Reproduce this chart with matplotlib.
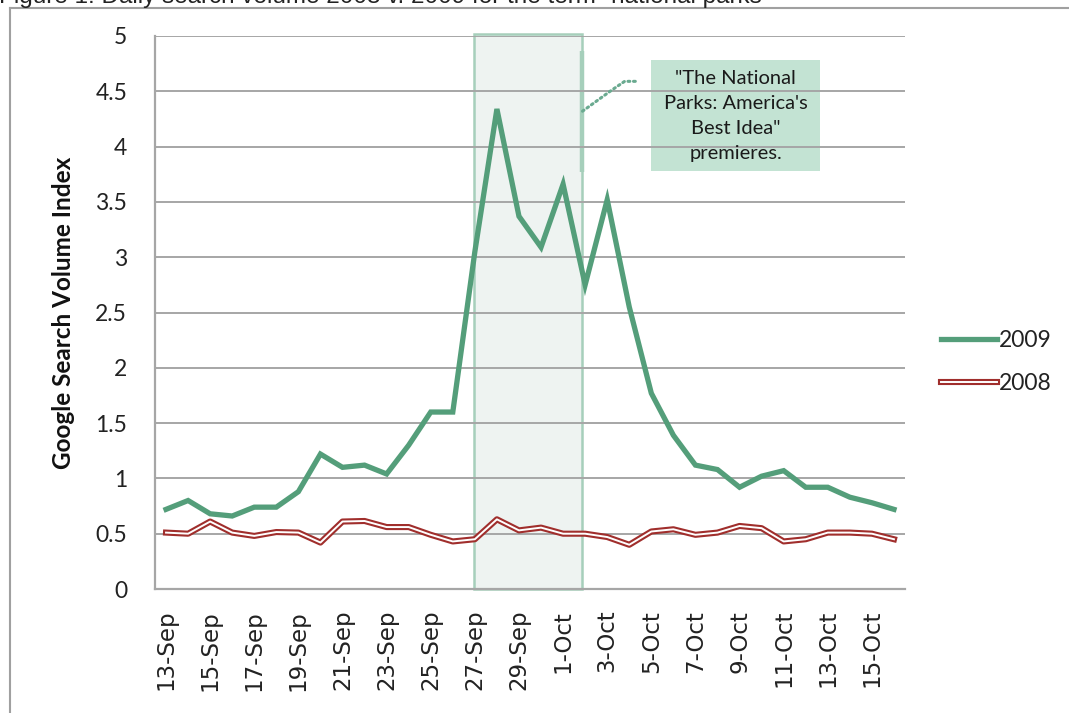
import numpy as np
import matplotlib
matplotlib.use("Agg")
import matplotlib.pyplot as plt
from matplotlib.lines import Line2D
from matplotlib.patches import Rectangle
import matplotlib.patheffects as pe

# ---------------- data ----------------
dates = [f"{d}-Sep" for d in range(13, 31)] + [f"{d}-Oct" for d in range(1, 17)]
vol_2009 = [0.72, 0.80, 0.68, 0.66, 0.74, 0.74, 0.88, 1.22, 1.10, 1.12, 1.04, 1.30,
            1.60, 1.60, 3.05, 4.34, 3.37, 3.09,
            3.66, 2.75, 3.52, 2.55, 1.77, 1.39, 1.12, 1.08, 0.92, 1.02, 1.07, 0.92,
            0.92, 0.83, 0.78, 0.72]
vol_2008 = [0.51, 0.50, 0.61, 0.51, 0.48, 0.515, 0.51, 0.42, 0.61, 0.615, 0.56, 0.56,
            0.49, 0.43, 0.45, 0.63, 0.53, 0.555,
            0.50, 0.50, 0.47, 0.40, 0.52, 0.54, 0.49, 0.51, 0.57, 0.55, 0.43, 0.45,
            0.51, 0.51, 0.50, 0.45]
series_names = ["2009", "2008"]
y_ticks = [0, 0.5, 1, 1.5, 2, 2.5, 3, 3.5, 4, 4.5, 5]
y_tick_labels = ["0", "0.5", "1", "1.5", "2", "2.5", "3", "3.5", "4", "4.5", "5"]
shade_start, shade_end = "27-Sep", "2-Oct"
callout_text = "\"The National\nParks: America's\nBest Idea\"\npremieres."
title = 'Figure 1: Daily search volume 2008 v. 2009 for the term "national parks"'
ylabel = "Google Search Volume Index"

GREEN = "#549E7A"
RED = "#A02E2C"
GRID = "#A6A6A6"

W, H = 1069, 713
fig = plt.figure(figsize=(W / 100, H / 100), dpi=100)
ax = fig.add_axes([155 / W, (H - 589) / H, (905 - 155) / W, (589 - 36) / H])

x = np.arange(len(dates))

# shaded premiere window
i0 = dates.index(shade_start)
i1 = dates.index(shade_end)
ax.add_patch(Rectangle((i0 - 0.05, 0), (i1 - 0.15) - (i0 - 0.05), 5.015,
                       facecolor="#EEF3F1", edgecolor="#A6CFBB", lw=1.8,
                       zorder=0.3, clip_on=False))
ax.plot([i1 - 0.15, i1 - 0.15], [3.77, 4.86], color="#A6CFBB", lw=3.2,
        zorder=0.31, solid_capstyle="butt")

# callout box
ax.add_patch(Rectangle((22.0, 3.78), 7.64, 1.0, facecolor="#C3E3D3",
                       edgecolor="none", zorder=0.3))
ax.text(25.82, 4.275, callout_text, ha="center", va="center", fontsize=14.5,
        family="Lato", color="#1A1A1A", linespacing=1.58, zorder=3)
ax.plot([18.88, 20.20, 20.79, 21.33], [4.32, 4.51, 4.59, 4.59],
        color="#6AAA90", lw=2.2, ls=(0, (0.6, 1.2)), zorder=2,
        dash_capstyle="round")

# series
ax.plot(x, vol_2009, color=GREEN, lw=3.8, label=series_names[0], zorder=4,
        solid_joinstyle="miter")
ax.plot(x, vol_2008, color="white", lw=1.4, label=series_names[1], zorder=4,
        path_effects=[pe.Stroke(linewidth=4.4, foreground=RED), pe.Normal()])

# axes styling
ax.set_xlim(-0.5, len(dates) - 0.5)
ax.set_ylim(0, 5)
ax.set_yticks(y_ticks)
ax.set_yticklabels(y_tick_labels, family="Lato", fontsize=16.5, color="#222222")
ax.set_xticks(x[::2])
ax.set_xticklabels(dates[::2], rotation=90, family="DejaVu Sans", fontsize=16.5,
                   color="#222222", va="top")
ax.tick_params(axis="both", length=0)
ax.tick_params(axis="y", pad=20)
ax.tick_params(axis="x", pad=15)
ax.yaxis.grid(True, color=GRID, lw=1.4)
ax.set_axisbelow(True)
for s in ["top", "right"]:
    ax.spines[s].set_visible(False)
for s in ["left", "bottom"]:
    ax.spines[s].set_color(GRID)
    ax.spines[s].set_linewidth(1.6)
ax.set_ylabel(ylabel, family="Lato", fontweight="bold", fontsize=17.5,
              color="#111111")
ax.yaxis.set_label_coords((75 - 155) / (905 - 155), 0.5)

leg = ax.legend(loc="center left", bbox_to_anchor=(941 / W, 1 - 362 / H),
                bbox_transform=fig.transFigure, frameon=False,
                prop={"family": "Lato", "size": 16.5},
                handlelength=2.45, handletextpad=0.08, labelspacing=0.95,
                borderpad=0, borderaxespad=0)
for t in leg.get_texts():
    t.set_color("#222222")

# outer frame and cut title
fig.add_artist(Line2D([10 / W, 1], [1 - 8 / H, 1 - 8 / H], transform=fig.transFigure,
                      color="#A0A0A0", lw=1.5))
fig.add_artist(Line2D([10 / W, 10 / W], [0, 1 - 8 / H], transform=fig.transFigure,
                      color="#A0A0A0", lw=1.5))
fig.text(-1 / W, 1 - 3.5 / H, title, family="Liberation Sans", fontsize=17.5,
         va="baseline", ha="left", color="#222222")

fig.savefig("out.png", dpi=100)
